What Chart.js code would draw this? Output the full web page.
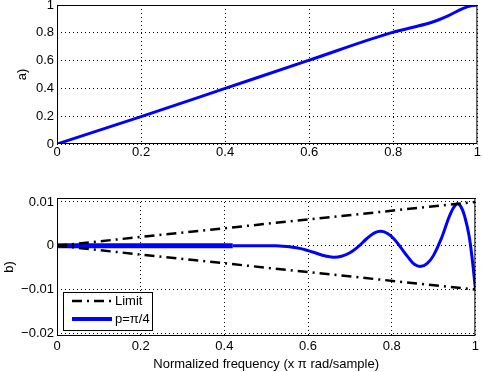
<!DOCTYPE html>
<html>
<head>
<meta charset="utf-8">
<script src="https://cdn.jsdelivr.net/npm/chart.js@4.4.1/dist/chart.umd.min.js"></script>
<style>
  body { margin: 0; background: #fff; }
  #wrap { position: relative; width: 482px; height: 372px; overflow: hidden; }
  canvas { position: absolute; left: 0; }
</style>
</head>
<body>
<div id="wrap">
  <canvas id="chartA" width="482" height="180" style="top:-10px"></canvas>
  <canvas id="chartB" width="482" height="187" style="top:185px"></canvas>
</div>
<script>
// panel a)
const freqA = [0, 0.2, 0.4, 0.6, 0.8, 0.85, 0.89, 0.93, 0.965, 0.985, 1];
const magA = [0, 0.197, 0.4, 0.603, 0.805, 0.842, 0.874, 0.922, 0.974, 0.994, 1];

// panel b)
const freqB = [0, 0.1, 0.2, 0.3, 0.42, 0.5, 0.52, 0.54, 0.56, 0.58, 0.6, 0.62, 0.64, 0.66, 0.68, 0.7,
  0.72, 0.74, 0.76, 0.775, 0.79, 0.805, 0.82, 0.84, 0.855, 0.87, 0.885, 0.9, 0.92, 0.94, 0.955,
  0.965, 0.975, 0.985, 0.993, 1];
const errB = [0, 0, 0, 0, 0, 0, -0.00002, -0.0001, -0.0003, -0.0006, -0.0011, -0.0017, -0.0023, -0.0026,
  -0.0024, -0.0016, -0.0002, 0.0016, 0.003, 0.0033, 0.0028, 0.0016, -0.0002, -0.0027, -0.0043,
  -0.0047, -0.0040, -0.0022, 0.002, 0.0072, 0.0095, 0.009, 0.0065, 0.0022, -0.0035, -0.0098];
const limitX = [0, 1];
const limitHi = [0, 0.01];
const limitLo = [0, -0.01];

// ticks
const xTicks = [0, 0.2, 0.4, 0.6, 0.8, 1];
const xTickLabels = ['0', '0.2', '0.4', '0.6', '0.8', '1'];
const yTicksA = [0, 0.2, 0.4, 0.6, 0.8, 1];
const yTickLabelsA = ['0', '0.2', '0.4', '0.6', '0.8', '1'];
const yTicksB = [-0.02, -0.01, 0, 0.01];
const yTickLabelsB = ['\u22120.02', '\u22120.01', '0', '0.01'];

const font = { family: '"Liberation Sans", Arial, sans-serif', size: 13 };
const blue = '#0000ff';

const pts = (xs, ys) => xs.map((x, i) => ({ x: x, y: ys[i] }));

// matlab-style box around the axes
const axesBox = {
  id: 'axesBox',
  afterDraw(chart) {
    const { ctx, chartArea: a } = chart;
    ctx.save();
    ctx.strokeStyle = '#000';
    ctx.lineWidth = 1;
    ctx.strokeRect(a.left + 0.5, a.top + 0.5, a.right - a.left - 1, a.bottom - a.top - 1);
    ctx.restore();
  }
};

// legend inside the lower-left corner of panel b)
const legendBox = {
  id: 'legendBox',
  afterDraw(chart) {
    const { ctx, chartArea } = chart;
    const x = chartArea.left + 6, y = chartArea.bottom - 44, w = 89, h = 38;
    ctx.save();
    ctx.fillStyle = '#fff';
    ctx.fillRect(x, y, w, h);
    ctx.strokeStyle = '#000';
    ctx.lineWidth = 1;
    ctx.strokeRect(x + 0.5, y + 0.5, w, h);
    ctx.font = font.size + 'px ' + font.family;
    ctx.textBaseline = 'middle';
    chart.data.datasets.filter(d => d.inLegend).forEach((d, i) => {
      const ly = y + 9 + i * 18;
      ctx.beginPath();
      ctx.setLineDash(d.borderDash || []);
      ctx.lineWidth = d.legendWidth || d.borderWidth;
      ctx.strokeStyle = d.borderColor;
      ctx.moveTo(x + 9, ly);
      ctx.lineTo(x + 49, ly);
      ctx.stroke();
      ctx.setLineDash([]);
      ctx.fillStyle = '#000';
      ctx.fillText(d.label, x + 52, ly);
    });
    ctx.restore();
  }
};

function xScale(height, pad, title) {
  return {
    type: 'linear', min: 0, max: 1,
    afterBuildTicks: s => { s.ticks = xTicks.map(v => ({ value: v })); },
    afterFit: s => { s.height = height; },
    ticks: { callback: (v, i) => xTickLabels[i], color: '#000', font: font, padding: pad, autoSkip: false, maxRotation: 0 },
    grid: { color: '#000', lineWidth: 1, drawTicks: false },
    border: { display: false, dash: [1, 3] },
    title: { display: !!title, text: title || '', color: '#000', font: font, padding: { top: 0, bottom: 0 } }
  };
}

function yScale(width, min, max, ticks, labels, title) {
  return {
    min: min, max: max,
    afterBuildTicks: s => { s.ticks = ticks.map(v => ({ value: v })); },
    afterFit: s => { s.width = width; },
    ticks: { callback: (v, i) => labels[i], color: '#000', font: font, padding: 3, autoSkip: false },
    grid: { color: '#000', lineWidth: 1, drawTicks: false },
    border: { display: false, dash: [1, 3] },
    title: { display: true, text: title, color: '#000', font: font, padding: 0 }
  };
}

new Chart(document.getElementById('chartA'), {
  type: 'line',
  data: {
    datasets: [{
      label: 'a',
      data: pts(freqA, magA),
      borderColor: blue,
      borderWidth: 3,
      pointRadius: 0,
      cubicInterpolationMode: 'monotone'
    }]
  },
  options: {
    responsive: false,
    animation: false,
    layout: { padding: { left: 15, top: 15, right: 4, bottom: 0 } },
    plugins: { legend: { display: false }, tooltip: { enabled: false } },
    scales: {
      x: xScale(26, 1),
      y: yScale(42, 0, 1, yTicksA, yTickLabelsA, 'a)')
    }
  },
  plugins: [axesBox]
});

new Chart(document.getElementById('chartB'), {
  type: 'line',
  data: {
    datasets: [{
      label: 'Limit',
      inLegend: true,
      data: pts(limitX, limitHi),
      borderColor: '#000',
      borderWidth: 2.5,
      borderDash: [10, 5, 2, 5],
      pointRadius: 0
    }, {
      label: 'Limit (lower)',
      data: pts(limitX, limitLo),
      borderColor: '#000',
      borderWidth: 2.5,
      borderDash: [10, 5, 2, 5],
      pointRadius: 0
    }, {
      label: 'p=\u03c0/4',
      inLegend: true,
      legendWidth: 4,
      data: pts(freqB, errB),
      borderColor: blue,
      borderWidth: 3,
      pointRadius: 0,
      tension: 0.4,
      segment: { borderWidth: c => (c.p1.parsed.x <= 0.42 ? 5 : 3) }
    }]
  },
  options: {
    responsive: false,
    animation: false,
    layout: { padding: { left: 2, top: 13, right: 4, bottom: 0 } },
    plugins: { legend: { display: false }, tooltip: { enabled: false } },
    scales: {
      x: xScale(36, 3, 'Normalized frequency (x \u03c0 rad/sample)'),
      y: yScale(55, -0.0206, 0.0109, yTicksB, yTickLabelsB, 'b)')
    }
  },
  plugins: [axesBox, legendBox]
});
</script>
</body>
</html>
